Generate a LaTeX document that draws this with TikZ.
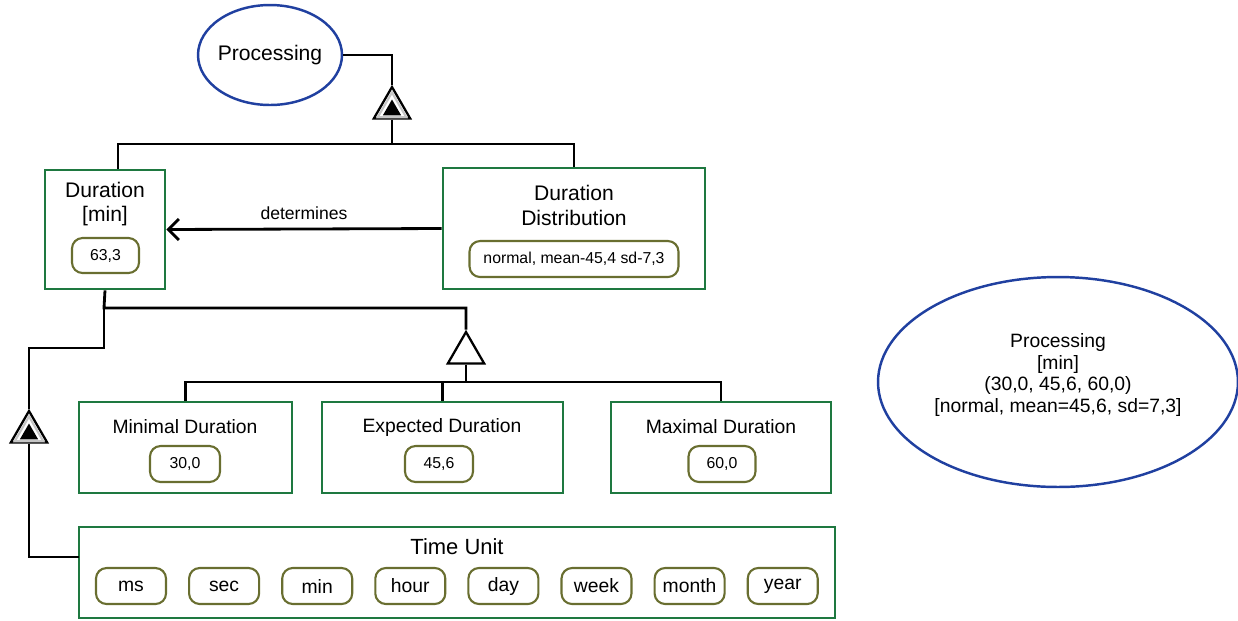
\documentclass[tikz,border=0pt]{standalone}
\usepackage{fontspec}
\setmainfont{Liberation Sans}
\usetikzlibrary{shapes.geometric,arrows.meta}
\definecolor{boxgreen}{RGB}{30,120,64}
\definecolor{valolive}{RGB}{105,110,48}
\definecolor{ellblue}{RGB}{32,64,160}
\begin{document}
\begin{tikzpicture}
[
    x=0.02cm, y=-0.02cm,
    conn/.style={line width=1.6pt, black},
    entity/.style={draw=boxgreen, line width=1.6pt, inner sep=0pt},
    valbox/.style={draw=valolive, line width=1.2pt, rounded corners=6pt, minimum width=1.4cm, minimum height=0.72cm, inner sep=0pt, font=\fontsize{9}{11}\selectfont},
    unitbox/.style={valbox, font=\fontsize{11}{13}\selectfont},
    title/.style={align=center, font=\fontsize{12}{14}\selectfont},
    subtitle/.style={align=center, font=\fontsize{11}{13}\selectfont},
    concept/.style={draw=ellblue, ellipse, line width=1.4pt, inner sep=0pt},
    isa/.style={regular polygon, regular polygon sides=3, draw=black, line width=1.3pt, fill=white, minimum size=0.84cm, inner sep=0pt},
    isaband/.style={regular polygon, regular polygon sides=3, draw=gray!45, line width=1.2pt, minimum size=0.66cm, inner sep=0pt},
    isamark/.style={regular polygon, regular polygon sides=3, fill=black, minimum size=0.42cm, inner sep=0pt}
]
    \useasboundingbox (0,0) rectangle (1238,620);

    \node [concept, minimum width=2.88cm, minimum height=2cm] (proc) at (270,55) {};
    \node [title] (proctext) at (proc) {Processing};

    \node [isa] (isatop) at (392,108) {};
    \node [isaband] (isatopband) at (392,109) {};
    \node [isamark] (isatopmark) at (392,110) {};

    \node [entity, minimum width=2.4cm, minimum height=2.38cm] (dur) at (105,229.5) {};
    \node [title] (durtext) at (105,204) {Duration\\{[min]}};
    \node [valbox, minimum width=1.34cm, minimum height=0.7cm] (durval) at (105.5,255.5) {63,3};

    \node [entity, minimum width=5.24cm, minimum height=2.42cm] (dd) at (574,228.5) {};
    \node [title] (ddtext) at (574,205.5) {Duration\\Distribution};
    \node [valbox, minimum width=4.18cm] (ddval) at (574,259) {normal, mean-45,4 sd-7,3};

    \node [isa] (isaopen) at (466,353) {};
    \node [isa] (isaleft) at (29,432) {};
    \node [isaband] (isaleftband) at (29,433) {};
    \node [isamark] (isaleftmark) at (29,434) {};

    \node [entity, minimum width=4.26cm, minimum height=1.82cm] (mind) at (185.5,447.5) {};
    \node [subtitle] (mindtext) at (185,427) {Minimal Duration};
    \node [valbox] (mindval) at (185,464) {30,0};

    \node [entity, minimum width=4.82cm, minimum height=1.82cm] (expd) at (442.5,447.5) {};
    \node [subtitle] (expdtext) at (442,427) {Expected Duration};
    \node [valbox, minimum width=1.36cm] (expdval) at (439,464) {45,6};

    \node [entity, minimum width=4.4cm, minimum height=1.82cm] (maxd) at (721,447.5) {};
    \node [subtitle] (maxdtext) at (721,427) {Maximal Duration};
    \node [valbox, minimum width=1.34cm] (maxdval) at (722,464) {60,0};

    \node [entity, minimum width=15.12cm, minimum height=1.82cm] (tu) at (457,572.5) {};
    \node [title, font=\fontsize{12.5}{14}\selectfont] (tutext) at (457,547) {Time Unit};
    \foreach \u [count=\i from 0] in {ms,sec,min,hour,day,week,month,year}
        \node [unitbox] (unit\i) at (131+93.1*\i,586) {\u};

    \node [concept, minimum width=7.2cm, minimum height=4.2cm] (procsum) at (1058,382) {};
    \node [align=center, font=\fontsize{11}{12.3}\selectfont] (procsumtext) at (1058,375)
        {Processing\\{[min]}\\(30,0, 45,6, 60,0)\\{[normal, mean=45,6, sd=7,3]}};

    \coordinate (topjoin) at (392,144);
    \coordinate (durup) at (118,144);
    \coordinate (hub) at (104,308);
    \coordinate (bend) at (29,348);
    \coordinate (midjoin) at (466,382);
    \coordinate (tuin) at (79,557);

    \draw [conn] (proc.east) -| (isatop.north);
    \draw [conn] (isatop.south) -- (topjoin);
    \draw [conn] (durup |- dur.north) -- (durup) -- (topjoin) -| (dd.north);
    \draw [conn, -{Straight Barb[length=6pt, width=12pt]}] (dd.west) -- (dur.east)
        node [midway, above=1pt, font=\fontsize{10}{12}\selectfont] (detlabel) {determines};
    \draw [conn] (dur.south) -- (hub) -| (isaopen.north);
    \draw [conn] (hub) |- (bend) -- (isaleft.north);
    \draw [conn] (isaleft.south) |- (tuin);
    \draw [conn] (isaopen.south) -- (midjoin);
    \draw [conn] (mind.north) |- (midjoin) -| (maxd.north);
    \draw [conn] (expd.north) -- (expd.north |- midjoin);
\end{tikzpicture}
\end{document}
